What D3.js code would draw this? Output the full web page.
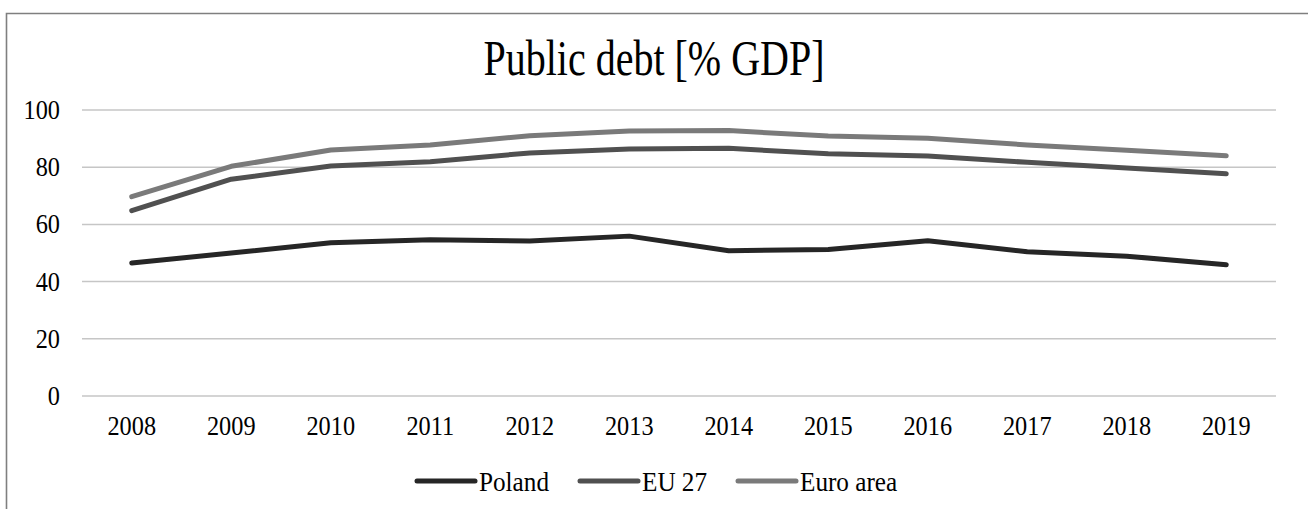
<!DOCTYPE html>
<html>
<head>
<meta charset="utf-8">
<script src="https://cdn.jsdelivr.net/npm/d3@7"></script>
<style>
  html, body { margin: 0; padding: 0; background: #fff; }
  svg { display: block; }
  text { font-family: "Liberation Serif", "Times New Roman", serif; fill: #000; }
</style>
</head>
<body>
<svg id="chart" width="1308" height="509"></svg>
<script>
const years = ["2008","2009","2010","2011","2012","2013","2014","2015","2016","2017","2018","2019"];
const poland   = [46.5, 50.0, 53.6, 54.6, 54.2, 55.9, 50.8, 51.2, 54.3, 50.4, 48.9, 45.9];
const eu27     = [64.8, 75.8, 80.4, 81.9, 85.0, 86.4, 86.6, 84.7, 83.9, 81.7, 79.7, 77.7];
const euroArea = [69.7, 80.3, 86.0, 87.8, 91.0, 92.7, 92.8, 90.9, 90.1, 87.8, 85.9, 84.0];
const seriesNames = ["Poland", "EU 27", "Euro area"];
const yTicks = [0, 20, 40, 60, 80, 100];
const title = "Public debt [% GDP]";

const colors = ["#262626", "#505050", "#7a7a7a"];
const series = [poland, eu27, euroArea];
const sx = 0.9;

const svg = d3.select("#chart");

// outer border (top + left visible)
svg.append("path")
  .attr("d", "M6.5,1400 L6.5,13.5 L1400,13.5")
  .attr("fill", "none").attr("stroke", "#7f7f7f").attr("stroke-width", 1.6);

const x = d3.scaleBand().domain(years).range([82, 1276]);
const y = d3.scaleLinear().domain([0, 100]).range([396, 110]);

// gridlines
svg.append("g").selectAll("line").data(yTicks).join("line")
  .attr("x1", 82).attr("x2", 1276)
  .attr("y1", d => y(d)).attr("y2", d => y(d))
  .attr("stroke", "#c6c6c6").attr("stroke-width", 1.5);

// y labels
svg.append("g").selectAll("text").data(yTicks).join("text")
  .attr("transform", d => `translate(60,${y(d) + 9}) scale(${sx},1)`)
  .attr("text-anchor", "end")
  .attr("font-size", 27)
  .text(d => d);

// x labels
svg.append("g").selectAll("text").data(years).join("text")
  .attr("transform", d => `translate(${x(d) + x.bandwidth() / 2},${435}) scale(${sx},1)`)
  .attr("text-anchor", "middle")
  .attr("font-size", 27)
  .text(d => d);

// title
svg.append("text")
  .attr("transform", `translate(654,75) scale(0.8,1)`)
  .attr("text-anchor", "middle")
  .attr("font-size", 50)
  .text(title);

// lines
const line = d3.line()
  .x((d, i) => x(years[i]) + x.bandwidth() / 2)
  .y(d => y(d));

series.forEach((s, k) => {
  svg.append("path")
    .datum(s)
    .attr("d", line)
    .attr("fill", "none")
    .attr("stroke", colors[k])
    .attr("stroke-width", 5)
    .attr("stroke-linecap", "round")
    .attr("stroke-linejoin", "round");
});

// legend
const legendX = [417, 580, 738];
const lg = svg.append("g");
seriesNames.forEach((name, k) => {
  lg.append("line")
    .attr("x1", legendX[k]).attr("x2", legendX[k] + 58)
    .attr("y1", 481).attr("y2", 481)
    .attr("stroke", colors[k]).attr("stroke-width", 5)
    .attr("stroke-linecap", "round");
  lg.append("text")
    .attr("transform", `translate(${legendX[k] + 62},${491}) scale(${sx},1)`)
    .attr("font-size", 28)
    .text(name);
});
</script>
</body>
</html>
